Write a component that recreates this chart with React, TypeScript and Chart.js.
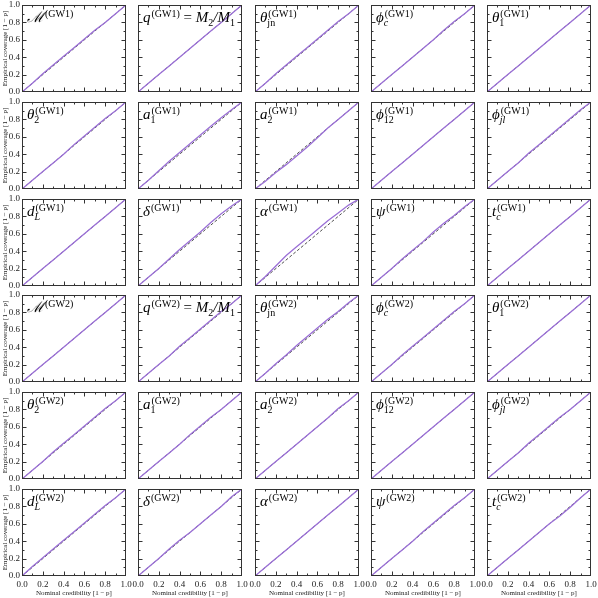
import React, { useEffect, useRef } from "react";
import { Chart, registerables } from "chart.js";
Chart.register(...registerables);

// ---------- data ----------
const X_GRID = [0, 0.1, 0.2, 0.3, 0.4, 0.5, 0.6, 0.7, 0.8, 0.9, 1.0];
const DIAG_X = [0, 1];
const DIAG_Y = [0, 1];
const TICK_VALUES = [0, 0.2, 0.4, 0.6, 0.8, 1.0];
const RUNS = ["(GW1)", "(GW2)"];

// GW1
const GW1_M = [0, 0.10, 0.21, 0.31, 0.41, 0.51, 0.61, 0.71, 0.80, 0.90, 1.0];
const GW1_Q = [0, 0.10, 0.20, 0.30, 0.40, 0.50, 0.60, 0.70, 0.80, 0.90, 1.0];
const GW1_THJN = [0, 0.10, 0.21, 0.31, 0.41, 0.51, 0.61, 0.71, 0.81, 0.90, 1.0];
const GW1_PHIC = [0, 0.10, 0.20, 0.30, 0.40, 0.50, 0.60, 0.71, 0.81, 0.90, 1.0];
const GW1_TH1 = [0, 0.10, 0.20, 0.30, 0.40, 0.50, 0.60, 0.70, 0.80, 0.90, 1.0];
const GW1_TH2 = [0, 0.10, 0.20, 0.30, 0.40, 0.51, 0.61, 0.71, 0.81, 0.90, 1.0];
const GW1_A1 = [0, 0.10, 0.21, 0.32, 0.42, 0.52, 0.62, 0.72, 0.82, 0.91, 1.0];
const GW1_A2 = [0, 0.09, 0.19, 0.28, 0.38, 0.48, 0.59, 0.70, 0.80, 0.90, 1.0];
const GW1_PHI12 = [0, 0.10, 0.20, 0.30, 0.40, 0.50, 0.60, 0.70, 0.80, 0.90, 1.0];
const GW1_PHIJL = [0, 0.10, 0.20, 0.30, 0.41, 0.51, 0.61, 0.71, 0.81, 0.91, 1.0];
const GW1_DL = [0, 0.10, 0.20, 0.30, 0.40, 0.50, 0.60, 0.70, 0.80, 0.90, 1.0];
const GW1_DELTA = [0, 0.10, 0.20, 0.31, 0.42, 0.52, 0.62, 0.73, 0.83, 0.92, 1.0];
const GW1_ALPHA = [0, 0.11, 0.23, 0.35, 0.45, 0.55, 0.65, 0.75, 0.84, 0.93, 1.0];
const GW1_PSI = [0, 0.10, 0.20, 0.31, 0.41, 0.51, 0.62, 0.72, 0.81, 0.91, 1.0];
const GW1_TC = [0, 0.10, 0.20, 0.30, 0.40, 0.50, 0.60, 0.70, 0.80, 0.90, 1.0];

// GW2
const GW2_M = [0, 0.10, 0.20, 0.30, 0.40, 0.50, 0.60, 0.70, 0.80, 0.90, 1.0];
const GW2_Q = [0, 0.10, 0.20, 0.30, 0.41, 0.51, 0.61, 0.71, 0.81, 0.90, 1.0];
const GW2_THJN = [0, 0.10, 0.21, 0.31, 0.42, 0.52, 0.62, 0.72, 0.81, 0.91, 1.0];
const GW2_PHIC = [0, 0.10, 0.20, 0.31, 0.41, 0.51, 0.61, 0.71, 0.81, 0.90, 1.0];
const GW2_TH1 = [0, 0.10, 0.20, 0.30, 0.40, 0.50, 0.60, 0.70, 0.80, 0.90, 1.0];
const GW2_TH2 = [0, 0.10, 0.20, 0.31, 0.41, 0.51, 0.61, 0.71, 0.81, 0.90, 1.0];
const GW2_A1 = [0, 0.10, 0.20, 0.30, 0.40, 0.51, 0.61, 0.71, 0.80, 0.90, 1.0];
const GW2_A2 = [0, 0.10, 0.20, 0.30, 0.40, 0.50, 0.60, 0.70, 0.81, 0.90, 1.0];
const GW2_PHI12 = [0, 0.10, 0.20, 0.30, 0.40, 0.50, 0.60, 0.70, 0.80, 0.90, 1.0];
const GW2_PHIJL = [0, 0.10, 0.20, 0.30, 0.41, 0.51, 0.61, 0.71, 0.80, 0.90, 1.0];
const GW2_DL = [0, 0.11, 0.21, 0.31, 0.41, 0.51, 0.61, 0.71, 0.81, 0.90, 1.0];
const GW2_DELTA = [0, 0.10, 0.20, 0.31, 0.41, 0.50, 0.60, 0.70, 0.80, 0.91, 1.0];
const GW2_ALPHA = [0, 0.10, 0.20, 0.30, 0.40, 0.50, 0.60, 0.70, 0.80, 0.90, 1.0];
const GW2_PSI = [0, 0.10, 0.20, 0.30, 0.40, 0.51, 0.61, 0.71, 0.81, 0.90, 1.0];
const GW2_TC = [0, 0.10, 0.20, 0.30, 0.40, 0.50, 0.60, 0.69, 0.79, 0.90, 1.0];

const SERIES = [
  GW1_M, GW1_Q, GW1_THJN, GW1_PHIC, GW1_TH1,
  GW1_TH2, GW1_A1, GW1_A2, GW1_PHI12, GW1_PHIJL,
  GW1_DL, GW1_DELTA, GW1_ALPHA, GW1_PSI, GW1_TC,
  GW2_M, GW2_Q, GW2_THJN, GW2_PHIC, GW2_TH1,
  GW2_TH2, GW2_A1, GW2_A2, GW2_PHI12, GW2_PHIJL,
  GW2_DL, GW2_DELTA, GW2_ALPHA, GW2_PSI, GW2_TC,
];

type Seg = { t: string; k: "it" | "up" | "sub" };
const Q_TAIL: Seg[] = [
  { t: " = ", k: "up" },
  { t: "M", k: "it" },
  { t: "2", k: "sub" },
  { t: "/", k: "it" },
  { t: "M", k: "it" },
  { t: "1", k: "sub" },
];
type Label = { main: string; sub?: string; subUp?: boolean; tail?: Seg[] };
const LABELS: Label[] = [
  { main: "ℳ" },
  { main: "q", tail: Q_TAIL },
  { main: "θ", sub: "jn", subUp: true },
  { main: "ϕ", sub: "c" },
  { main: "θ", sub: "1", subUp: true },
  { main: "θ", sub: "2", subUp: true },
  { main: "a", sub: "1", subUp: true },
  { main: "a", sub: "2", subUp: true },
  { main: "ϕ", sub: "12", subUp: true },
  { main: "ϕ", sub: "jl" },
  { main: "d", sub: "L" },
  { main: "δ" },
  { main: "α" },
  { main: "ψ" },
  { main: "t", sub: "c" },
];

const Y_TITLE = "Empirical coverage [1 − p]";
const X_TITLE = "Nominal credibility [1 − p]";

// ---------- style ----------
const PURPLE = "#9a6fd6";
const FRAME = "#333333";
const SERIF = '"Liberation Serif", "DejaVu Serif", serif';
const PAD_L = 22, PAD_R = 10, PAD_T = 6, PAD_B = 22;
const PLOT_W = 104, PLOT_H = 87;
const COL_X0 = 22, COL_STEP = 116.25;
const ROW_Y0 = 5, ROW_STEP = 96.8;

const framePlugin = {
  id: "frameTicks",
  afterDatasetsDraw(chart: any, _a: any, opts: any) {
    const { ctx, chartArea } = chart;
    const xs = chart.scales.x, ys = chart.scales.y;
    const l = Math.round(chartArea.left) + 0.5;
    const t = Math.round(chartArea.top) + 0.5;
    const r = Math.round(chartArea.right) - 0.5;
    const b = Math.round(chartArea.bottom) - 0.5;
    ctx.save();
    ctx.strokeStyle = FRAME;
    ctx.lineWidth = 1;
    ctx.beginPath();
    for (let i = 1; i < 10; i++) {
      const v = i / 10;
      const len = i % 2 === 0 ? 4 : 2;
      const px = Math.round(xs.getPixelForValue(v)) + 0.5;
      ctx.moveTo(px, b); ctx.lineTo(px, b - len);
      ctx.moveTo(px, t); ctx.lineTo(px, t + len);
      const py = Math.round(ys.getPixelForValue(v)) + 0.5;
      ctx.moveTo(l, py); ctx.lineTo(l + len, py);
      ctx.moveTo(r, py); ctx.lineTo(r - len, py);
    }
    ctx.stroke();
    ctx.strokeRect(l, t, r - l, b - t);

    // panel label
    const lab: Label = opts.label;
    const run: string = opts.run;
    let x = chartArea.left + 5;
    const base = chartArea.top + 17;
    ctx.fillStyle = "#000";
    ctx.textBaseline = "alphabetic";
    ctx.textAlign = "left";
    const mainFont = `italic 15px ${SERIF}`;
    const upFont = `15px ${SERIF}`;
    const supFont = `10px ${SERIF}`;
    const subIt = `italic 10px ${SERIF}`;
    ctx.font = mainFont;
    ctx.fillText(lab.main, x, base);
    x += ctx.measureText(lab.main).width + 1;
    ctx.font = supFont;
    ctx.fillText(run, x, base - 5.5);
    let w = ctx.measureText(run).width;
    if (lab.sub) {
      ctx.font = lab.subUp ? supFont : subIt;
      ctx.fillText(lab.sub, x - 1, base + 4);
      w = Math.max(w, ctx.measureText(lab.sub).width);
    }
    x += w;
    if (lab.tail) {
      for (const s of lab.tail) {
        ctx.font = s.k === "it" ? mainFont : s.k === "up" ? upFont : supFont;
        const yb = s.k === "sub" ? base + 4 : base;
        ctx.fillText(s.t, x, yb);
        x += ctx.measureText(s.t).width;
      }
    }
    ctx.restore();
  },
};

function Panel({ idx }: { idx: number }) {
  const ref = useRef<HTMLCanvasElement | null>(null);
  const r = Math.floor(idx / 5);
  const c = idx % 5;
  const left = Math.round(COL_X0 + c * COL_STEP) - PAD_L;
  const top = Math.round(ROW_Y0 + r * ROW_STEP) - PAD_T;
  const width = PAD_L + PLOT_W + PAD_R;
  const height = PAD_T + PLOT_H + PAD_B;
  const showY = c === 0;
  const showX = r === 5;

  useEffect(() => {
    if (!ref.current) return;
    const ys = SERIES[idx];
    const chart = new Chart(ref.current, {
      type: "line",
      data: {
        datasets: [
          {
            data: X_GRID.map((x, i) => ({ x, y: ys[i] })),
            borderColor: PURPLE,
            borderWidth: 1.3,
            pointRadius: 0,
            tension: 0,
          },
          {
            data: DIAG_X.map((x, i) => ({ x, y: DIAG_Y[i] })),
            borderColor: "#000000",
            borderWidth: 0.7,
            borderDash: [3, 2],
            pointRadius: 0,
            tension: 0,
          },
        ],
      },
      options: {
        animation: false,
        responsive: false,
        maintainAspectRatio: false,
        devicePixelRatio: 1,
        layout: { padding: { left: 0, right: PAD_R, top: PAD_T, bottom: 0 } },
        events: [],
        plugins: {
          legend: { display: false },
          tooltip: { enabled: false },
          frameTicks: { label: LABELS[idx % 15], run: RUNS[Math.floor(idx / 15)] },
        } as any,
        scales: {
          x: {
            type: "linear",
            min: 0,
            max: 1,
            grid: { display: false, drawTicks: false },
            border: { display: false },
            afterBuildTicks: (s: any) => {
              s.ticks = TICK_VALUES.map((v) => ({ value: v }));
            },
            ticks: {
              display: showX,
              padding: 3,
              autoSkip: false,
              maxRotation: 0,
              color: "#222",
              font: { family: SERIF, size: 9 },
              callback: (v: any) => Number(v).toFixed(1),
            },
            title: {
              display: showX,
              text: X_TITLE,
              color: "#222",
              font: { family: SERIF, size: 7 },
              padding: { top: 1, bottom: 1 },
            },
            afterFit: (s: any) => {
              s.height = PAD_B;
              s.paddingLeft = 0;
              s.paddingRight = 0;
            },
          },
          y: {
            type: "linear",
            min: 0,
            max: 1,
            grid: { display: false, drawTicks: false },
            border: { display: false },
            afterBuildTicks: (s: any) => {
              s.ticks = TICK_VALUES.map((v) => ({ value: v }));
            },
            ticks: {
              display: showY,
              padding: 2,
              autoSkip: false,
              color: "#222",
              font: { family: SERIF, size: 9 },
              callback: (v: any) => Number(v).toFixed(1),
            },
            title: {
              display: showY,
              text: Y_TITLE,
              color: "#222",
              font: { family: SERIF, size: 7 },
              padding: { top: 1, bottom: 0 },
            },
            afterFit: (s: any) => {
              s.width = PAD_L;
              s.paddingTop = 0;
              s.paddingBottom = 0;
            },
          },
        },
      },
      plugins: [framePlugin],
    } as any);
    return () => chart.destroy();
  }, [idx]);

  return (
    <canvas
      ref={ref}
      width={width}
      height={height}
      style={{ position: "absolute", left, top, width, height }}
    />
  );
}

export default function App() {
  const idxs = SERIES.map((_, i) => i);
  return (
    <div
      style={{
        position: "absolute",
        left: 0,
        top: 0,
        width: 598,
        height: 598,
        background: "#ffffff",
        overflow: "hidden",
      }}
    >
      {idxs.map((i) => (
        <Panel key={i} idx={i} />
      ))}
    </div>
  );
}
